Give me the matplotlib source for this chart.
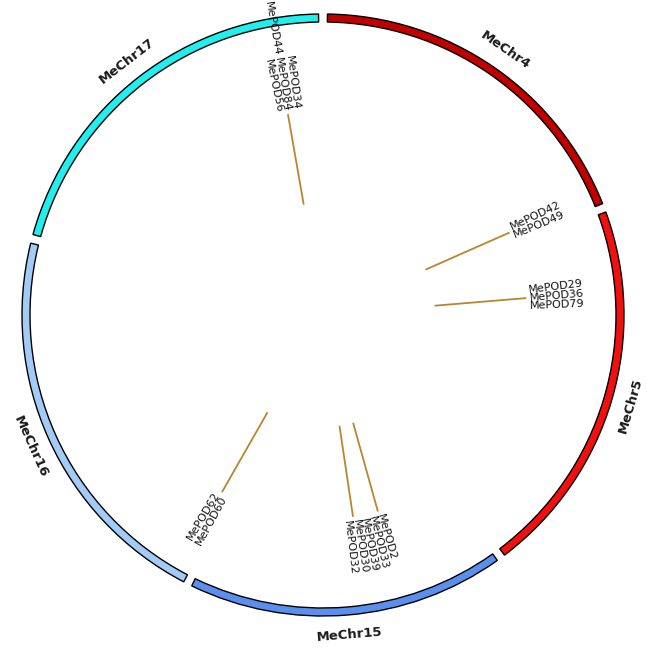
"""Circos-style chromosome ring with MePOD gene positions."""
import numpy as np
import matplotlib.pyplot as plt
from matplotlib.patches import Wedge

# ── data ──────────────────────────────────────────────────────────────────────
CHROMS = ["MeChr4", "MeChr5", "MeChr15", "MeChr16", "MeChr17"]
CHR_LEN_MB = [28.3, 30.6, 25.7, 32.0, 30.9]
CHR_COLORS = ["#C00000", "#F01010", "#5B8FEE", "#A2CBF6", "#22EEEE"]

GENES = ["MePOD42", "MePOD49",
         "MePOD29", "MePOD36", "MePOD79",
         "MePOD2", "MePOD33", "MePOD39", "MePOD30", "MePOD32",
         "MePOD60", "MePOD62",
         "MePOD56", "MePOD84", "MePOD34", "MePOD44"]
GENE_CHR = ["MeChr4", "MeChr4",
            "MeChr5", "MeChr5", "MeChr5",
            "MeChr15", "MeChr15", "MeChr15", "MeChr15", "MeChr15",
            "MeChr16", "MeChr16",
            "MeChr17", "MeChr17", "MeChr17", "MeChr17"]
GENE_POS_MB = [27.4, 27.4,
               6.4, 6.4, 6.4,
               8.3, 8.3, 11.3, 11.3, 11.3,
               0.9, 0.9,
               27.1, 27.1, 27.1, 27.1]
# label layer (colliding labels get pushed outward)
GENE_LAYER = [0, 0, 0, 0, 0, 0, 0, 0, 0, 0, 0, 0, 0, 0, 0, 1]

# ── layout / style ────────────────────────────────────────────────────────────
GAP = 1.7          # degrees between chromosomes
R_OUT, RING_W = 301, 8
R_CHR_LABEL = 321
LINK_IN, LINK_OUT = 112, 204
LABEL_STEP = 2.3   # degrees between stacked gene labels
LAYER_STEP = 57
LINK_COLOR = "#B8862D"


def polar(theta, r):
    """theta in degrees, clockwise from 12 o'clock."""
    t = np.radians(theta)
    return r * np.sin(t), r * np.cos(t)


fig = plt.figure(figsize=(6.47, 6.53), dpi=100)
ax = fig.add_axes([0, 0, 1, 1])
ax.set_xlim(-323, 324)
ax.set_ylim(-338, 315)
ax.set_aspect("equal")
ax.axis("off")

deg_per_mb = (360 - GAP * len(CHROMS)) / sum(CHR_LEN_MB)
chr_start = {}
pos = GAP / 2
for name, length, color in zip(CHROMS, CHR_LEN_MB, CHR_COLORS):
    end = pos + length * deg_per_mb
    chr_start[name] = pos
    ax.add_patch(Wedge((0, 0), R_OUT, 90 - end, 90 - pos, width=RING_W,
                       facecolor=color, edgecolor="black", linewidth=1.0))
    mid = (pos + end) / 2
    rot = 180 - mid if 90 < mid < 270 else -mid
    x, y = polar(mid, R_CHR_LABEL)
    ax.text(x, y, name, rotation=rot, rotation_mode="anchor",
            ha="center", va="center", fontsize=9.5, fontweight="bold",
            color="#1a1a1a")
    pos = end + GAP

# gene links
gene_theta = [chr_start[c] + p * deg_per_mb for c, p in zip(GENE_CHR, GENE_POS_MB)]
for th in sorted(set(gene_theta)):
    x1, y1 = polar(th, LINK_IN)
    x2, y2 = polar(th, LINK_OUT)
    ax.plot([x1, x2], [y1, y2], color=LINK_COLOR, linewidth=1.3,
            solid_capstyle="butt")

# gene labels, stacked per chromosome and layer
groups = {}
for i, (c, layer) in enumerate(zip(GENE_CHR, GENE_LAYER)):
    groups.setdefault((c, layer), []).append(i)
for (c, layer), idx in groups.items():
    center = np.mean([gene_theta[i] for i in idx])
    n = len(idx)
    for k, i in enumerate(idx):
        th = center + (k - (n - 1) / 2) * LABEL_STEP
        r = LINK_OUT + 3 + layer * LAYER_STEP
        x, y = polar(th, r)
        if th < 180:
            rot, ha = 90 - th, "left"
        else:
            rot, ha = 270 - th, "right"
        ax.text(x, y, GENES[i], rotation=rot, rotation_mode="anchor",
                ha=ha, va="center", fontsize=8, color="#111111")

fig.savefig("out.png", dpi=100, facecolor="white")
